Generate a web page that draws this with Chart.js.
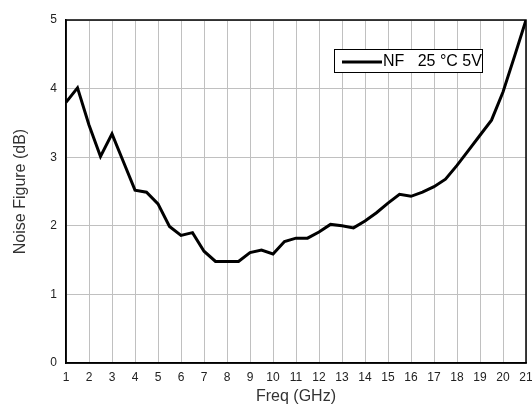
<!DOCTYPE html>
<html>
<head>
<meta charset="utf-8">
<script src="https://cdn.jsdelivr.net/npm/chart.js@4/dist/chart.umd.min.js"></script>
<style>
  html, body { margin: 0; padding: 0; background: #fff; }
  #wrap { width: 532px; height: 410px; }
</style>
</head>
<body>
<div id="wrap"><canvas id="nfChart" width="532" height="410"></canvas></div>
<script>
// data
const freqGHz = [1, 1.5, 2, 2.5, 3, 3.5, 4, 4.5, 5, 5.5, 6, 6.5, 7, 7.5, 8, 8.5, 9, 9.5, 10, 10.5,
                 11, 11.5, 12, 12.5, 13, 13.5, 14, 14.5, 15, 15.5, 16, 16.5, 17, 17.5, 18, 18.5,
                 19, 19.5, 20, 20.5, 21];
const noiseFigure = [3.80, 4.01, 3.47, 3.01, 3.34, 2.93, 2.52, 2.49, 2.32, 1.99, 1.86, 1.90, 1.63, 1.48,
                     1.48, 1.48, 1.61, 1.645, 1.59, 1.77, 1.82, 1.82, 1.91, 2.02, 2.00, 1.97, 2.07, 2.19,
                     2.33, 2.46, 2.43, 2.49, 2.57, 2.68, 2.88, 3.10, 3.32, 3.54, 3.95, 4.47, 5.00];
const seriesLabel = "NF   25 °C 5V";
const xTicks = [1, 2, 3, 4, 5, 6, 7, 8, 9, 10, 11, 12, 13, 14, 15, 16, 17, 18, 19, 20, 21];
const yTicks = [0, 1, 2, 3, 4, 5];

const FONT = "'Liberation Sans', Arial, sans-serif";

// frame round the plot area + boxed legend inside it
const framePlugin = {
    id: "frame",
    beforeDatasetsDraw(chart) {
        const a = chart.chartArea, c = chart.ctx;
        c.save();
        c.strokeStyle = "#000";
        c.lineWidth = 1.5;
        c.strokeRect(a.left, a.top, a.right - a.left, a.bottom - a.top);
        c.restore();
    },
    afterDraw(chart) {
        const c = chart.ctx;
        c.save();
        c.fillStyle = "#fff";
        c.fillRect(334, 49, 148, 23);
        c.strokeStyle = "#000";
        c.lineWidth = 1;
        c.strokeRect(334.5, 49.5, 148, 23);
        c.lineWidth = 3;
        c.beginPath();
        c.moveTo(342, 62);
        c.lineTo(382, 62);
        c.stroke();
        c.fillStyle = "#000";
        c.font = "16px " + FONT;
        c.textBaseline = "middle";
        c.fillText(chart.data.datasets[0].label, 383, 62);
        c.restore();
    }
};

new Chart(document.getElementById("nfChart"), {
    type: "line",
    data: {
        datasets: [{
            label: seriesLabel,
            data: freqGHz.map((f, i) => ({ x: f, y: noiseFigure[i] })),
            borderColor: "#000",
            borderWidth: 3,
            pointRadius: 0,
            tension: 0,
            fill: false
        }]
    },
    options: {
        responsive: false,
        animation: false,
        layout: { padding: { top: 20, right: 6, left: 0, bottom: 0 } },
        plugins: {
            legend: { display: false },
            tooltip: { enabled: false }
        },
        scales: {
            x: {
                type: "linear",
                min: 1,
                max: 21,
                afterFit(scale) {
                    scale.height = 47;
                    scale.paddingLeft = 0;
                    scale.paddingRight = 0;
                },
                afterBuildTicks(scale) { scale.ticks = xTicks.map(v => ({ value: v })); },
                grid: { color: "#c0c0c0", lineWidth: 1, drawTicks: false },
                border: { color: "#000", width: 1.5 },
                ticks: { color: "#222", font: { family: FONT, size: 12 }, padding: 7, maxRotation: 0, autoSkip: false },
                title: {
                    display: true,
                    text: "Freq (GHz)",
                    color: "#333",
                    font: { family: FONT, size: 16 },
                    padding: { top: 0, bottom: 4 }
                }
            },
            y: {
                min: 0,
                max: 5,
                afterFit(scale) {
                    scale.width = 66;
                    scale.paddingTop = 0;
                    scale.paddingBottom = 0;
                },
                afterBuildTicks(scale) { scale.ticks = yTicks.map(v => ({ value: v })); },
                grid: { color: "#c0c0c0", lineWidth: 1, drawTicks: false },
                border: { color: "#000", width: 1.5 },
                ticks: { color: "#222", font: { family: FONT, size: 12 }, padding: 9 },
                title: {
                    display: true,
                    text: "Noise Figure (dB)",
                    color: "#333",
                    font: { family: FONT, size: 16 },
                    padding: { top: 11, bottom: 0 }
                }
            }
        }
    },
    plugins: [framePlugin]
});
</script>
</body>
</html>
